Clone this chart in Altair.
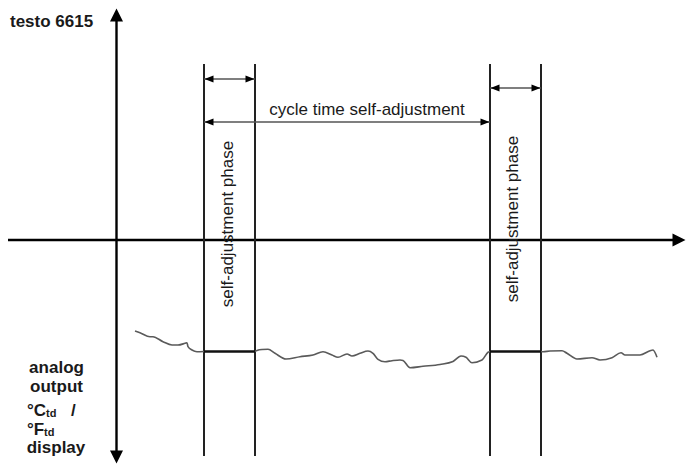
import altair as alt
import pandas as pd

# ---- diagram coordinate system (reference pixel units) ----
DOMAIN_X = [8, 686]
DOMAIN_Y = [8, 465]
W, H = 678, 457

# axes of the diagram
time_axis_y = 240
time_axis_x = [8, 680]
signal_axis_x = 116.5
signal_axis_y = [16, 455]

# self-adjustment phases on the time axis
phase_start = [204, 490]
phase_end = [255, 541]
phase_top = 64
phase_bottom = 456
phase_arrow_y = [79, 88]
cycle_arrow_y = 122
hold_level = 351.5

# measured signal, free-running stretches between the phases
sig1_x = [135, 140, 150, 153, 163, 172, 178, 185, 187, 188, 192, 197, 204]
sig1_y = [331, 332.7, 336.7, 336.7, 341.7, 345, 345, 343.3, 342.7, 346.7, 350, 351.7, 351.5]
sig2_x = [255, 257, 262, 268, 275, 286, 300, 313, 323, 332, 338, 347, 352, 360, 368, 373,
          378, 385, 392, 400, 403, 410, 423, 440, 453, 461, 466, 472, 482, 488, 490]
sig2_y = [351.5, 350.5, 349.5, 349.3, 353.3, 359, 356.7, 355, 351.7, 355, 357.3, 354, 356,
          353.3, 351, 353.3, 359.3, 361.7, 360.7, 360, 360.5, 367.7, 366.3, 364.5, 361.5,
          356, 357.3, 362.7, 360, 352.3, 351.5]
sig3_x = [541, 543, 550, 562, 567, 577, 592, 600, 612, 621, 625, 640, 650, 653, 657]
sig3_y = [351.5, 351.7, 351, 350.7, 353.3, 359, 357.7, 360, 357.7, 352.7, 355, 355, 350.7, 350, 357.3]

# texts
title_text = "testo 6615"
cycle_text = "cycle time self-adjustment"
phase_text = "self-adjustment phase"
phase_text_y = [224, 219]
left_words = ["analog", "output", "display"]
left_words_y = [373, 392, 453]
unit_words = ["°C", "/", "°F"]
unit_y = [416, 416, 435]

FONT = "Liberation Sans"
INK = "#1a1a1a"

X = lambda f="x": alt.X(f"{f}:Q", scale=alt.Scale(domain=DOMAIN_X, nice=False, zero=False), axis=None)
Y = lambda f="y": alt.Y(f"{f}:Q", scale=alt.Scale(domain=DOMAIN_Y, nice=False, zero=False, reverse=True), axis=None)

# ---- rules ----
axes_df = pd.DataFrame({
    "x": [time_axis_x[0], signal_axis_x],
    "x2": [time_axis_x[1], signal_axis_x],
    "y": [time_axis_y, signal_axis_y[0]],
    "y2": [time_axis_y, signal_axis_y[1]],
})
phase_lines_df = pd.DataFrame({
    "x": phase_start + phase_end,
    "x2": phase_start + phase_end,
    "y": [phase_top] * 4,
    "y2": [phase_bottom] * 4,
})
dim_df = pd.DataFrame({
    "x": [phase_start[0], phase_start[1], phase_start[0]],
    "x2": [phase_end[0], phase_end[1], phase_start[1]],
    "y": [phase_arrow_y[0], phase_arrow_y[1], cycle_arrow_y],
    "y2": [phase_arrow_y[0], phase_arrow_y[1], cycle_arrow_y],
})
hold_df = pd.DataFrame({
    "x": phase_start, "x2": phase_end,
    "y": [hold_level] * 2, "y2": [hold_level] * 2,
})

def rules(df, width, color):
    return alt.Chart(df).mark_rule(strokeWidth=width, color=color).encode(
        x=X(), x2="x2:Q", y=Y(), y2="y2:Q")

axes = rules(axes_df, 2.4, "#000000")
plines = rules(phase_lines_df, 2.0, "#222222")
dims = rules(dim_df, 1.3, "#555555")
holds = rules(hold_df, 2.6, "#111111")

# ---- signal ----
sig_rows = []
for seg, (xs, ys) in enumerate([(sig1_x, sig1_y), (sig2_x, sig2_y), (sig3_x, sig3_y)]):
    for i, (a, b) in enumerate(zip(xs, ys)):
        sig_rows.append({"x": a, "y": b, "seg": seg, "i": i})
signal = alt.Chart(pd.DataFrame(sig_rows)).mark_line(
    color="#5a5a5a", strokeWidth=1.6, interpolate="monotone").encode(
    x=X(), y=Y(), detail="seg:N", order="i:Q")

# ---- arrowheads ----
BIG = 169
SMALL = 81
UP, DOWN = "M-1,1L0,-1L1,1Z", "M-1,-1L0,1L1,-1Z"
RIGHT_BIG = "M-1,-1L1,0L-1,1Z"
LEFT, RIGHT = "M1,-0.8L-1,0L1,0.8Z", "M-1,-0.8L1,0L-1,0.8Z"
heads = [
    (signal_axis_x, 15, UP, BIG),
    (signal_axis_x, 457, DOWN, BIG),
    (679, time_axis_y, RIGHT_BIG, BIG),
    (phase_start[0] + 5, phase_arrow_y[0], LEFT, SMALL),
    (phase_end[0] - 5, phase_arrow_y[0], RIGHT, SMALL),
    (phase_start[1] + 5, phase_arrow_y[1], LEFT, SMALL),
    (phase_end[1] - 5, phase_arrow_y[1], RIGHT, SMALL),
    (phase_start[0] + 5, cycle_arrow_y, LEFT, SMALL),
    (phase_start[1] - 5, cycle_arrow_y, RIGHT, SMALL),
]
head_layers = []
for hx, hy, shp, sz in heads:
    head_layers.append(
        alt.Chart(pd.DataFrame({"x": [hx], "y": [hy]})).mark_point(
            shape=shp, size=sz, filled=True, color="#000000", opacity=1, strokeWidth=0).encode(
            x=X(), y=Y()))

# ---- texts ----
def text(df, **kw):
    base = dict(font=FONT, color=INK, fontSize=17)
    base.update(kw)
    return alt.Chart(df).mark_text(**base).encode(x=X(), y=Y(), text="t:N")

t_title = text(pd.DataFrame({"x": [10], "y": [27], "t": [title_text]}),
               fontWeight="bold", align="left", baseline="alphabetic")
t_cycle = text(pd.DataFrame({"x": [367], "y": [115], "t": [cycle_text]}),
               align="center", baseline="alphabetic")
t_phase = text(pd.DataFrame({"x": [227.5, 513], "y": phase_text_y, "t": [phase_text] * 2}),
               angle=270, align="center", baseline="middle")
t_left = text(pd.DataFrame({"x": [56.5, 56.5, 56], "y": left_words_y, "t": left_words}),
              fontWeight="bold", align="center", baseline="alphabetic")
t_units = text(pd.DataFrame({"x": [27, 71, 27], "y": unit_y, "t": unit_words}),
               fontWeight="bold", align="left", baseline="alphabetic")
t_sub = text(pd.DataFrame({"x": [46, 44], "y": [unit_y[0] + 1, unit_y[2] + 1], "t": ["td", "td"]}),
             fontWeight="bold", align="left", baseline="alphabetic", fontSize=11)

chart = alt.layer(
    axes, plines, dims, signal, holds, *head_layers,
    t_title, t_cycle, t_phase, t_left, t_units, t_sub,
).properties(
    width=W, height=H,
    autosize=alt.AutoSizeParams(type="none"),
    padding=0,
    background="white",
).configure_view(stroke=None)

chart.save("out.html", embed_options={"renderer": "svg", "actions": False})
